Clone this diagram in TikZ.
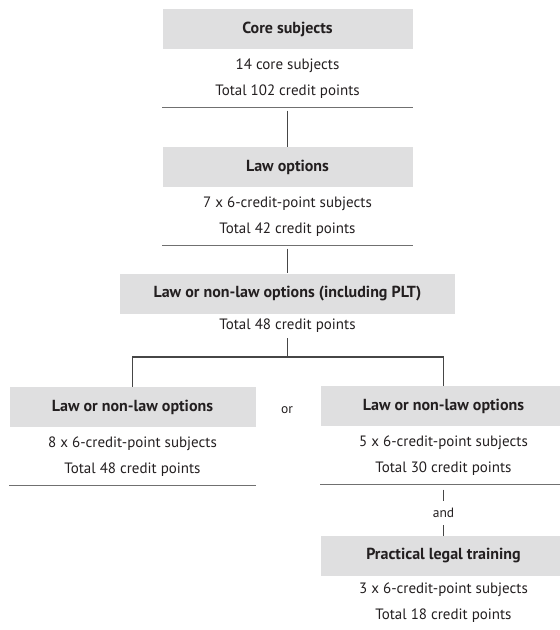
\documentclass[tikz,border=0pt]{standalone}
\usepackage{fontspec}
\setmainfont{PT Sans}
\usetikzlibrary{positioning}
\begin{document}
\begin{tikzpicture}[x=1pt,y=-1pt,
 hdr/.style={fill=hd,text=tx,font=\bfseries\fontsize{16}{18}\selectfont,
   minimum height=40pt,inner sep=0pt},
 body/.style={text=tx,font=\fontsize{15}{26}\selectfont,align=center,
   inner sep=0pt},
 ruled/.style={append after command={
   (\tikzlastnode.south west) edge[rule] (\tikzlastnode.south east)}},
 rule/.style={draw=rl,line width=1.5pt},
 link/.style={draw=lk,line width=1.1pt}]
 \definecolor{hd}{RGB}{223,223,224}
 \definecolor{tx}{RGB}{35,31,32}
 \definecolor{rl}{RGB}{112,112,112}
 \definecolor{lk}{RGB}{70,70,70}
 \useasboundingbox (0,0) rectangle (560,630);
 \foreach \blk/\xp/\yp/\bw/\ttl/\lna/\lnb in {
   core/287.5/29/250/Core subjects/14 core subjects/Total 102 credit points,
   law/287.5/167/250/Law options/7 x 6-credit-point subjects/Total 42 credit points,
   lft/132.5/407/246/Law or non-law options/8 x 6-credit-point subjects/Total 48 credit points,
   rgt/443.5/406/246/Law or non-law options/5 x 6-credit-point subjects/Total 30 credit points
 } {
   \node[hdr,minimum width=\bw pt] (\blk) at (\xp,\yp) {\ttl};
   \node[body,ruled,minimum width=\bw pt,minimum height=58pt,
     below=0pt of \blk] (\blk-t) {\lna\\\lnb};
 }
 \node[hdr,minimum width=335pt] (plt) at (287.5,293.5)
   {Law or non-law options (including PLT)};
 \node[body,minimum height=24pt,below=0pt of plt] (plt-t) {Total 48 credit points};
 \node[hdr,minimum width=246pt] (prac) at (443.5,556) {Practical legal training};
 \node[body,minimum height=52pt,below=0pt of prac] (prac-t)
   {3 x 6-credit-point subjects\\Total 18 credit points};
 \node[body,font=\fontsize{13.5}{15}\selectfont] (or) at (287,410) {or};
 \node[body,minimum height=24pt,font=\fontsize{13.5}{15}\selectfont] (and) at (443.5,513) {and};
 \draw[link,shorten <=3pt] (core-t.south) -- (law.north);
 \draw[link,shorten <=3pt] (law-t.south) -- (plt.north);
 \coordinate (fork) at (287.5,357);
 \draw[link] (plt-t.south) -- (fork);
 \draw[link] (fork) -| (lft.north);
 \draw[link] (fork) -| (rgt.north);
 \draw[link,shorten <=5pt] (rgt-t.south) -- (and.north);
 \draw[link] (and.south) -- (prac.north);
\end{tikzpicture}
\end{document}
